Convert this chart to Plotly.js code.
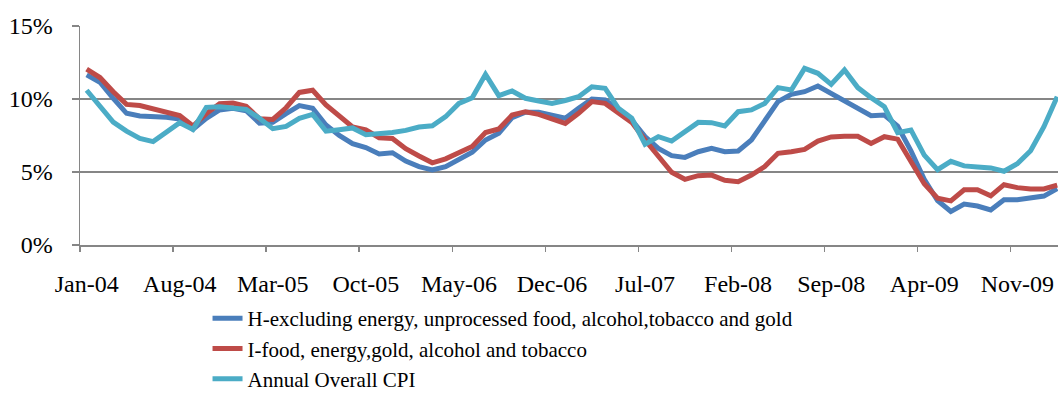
<!DOCTYPE html>
<html>
<head>
<meta charset="utf-8">
<script src="https://cdn.plot.ly/plotly-3.0.1.min.js"></script>
<style>
  html, body { margin: 0; padding: 0; background: #ffffff; }
  #chart { width: 1058px; height: 394px; }
</style>
</head>
<body>
<div id="chart"></div>
<script>
const months = [
  "Jan-04","Feb-04","Mar-04","Apr-04","May-04","Jun-04","Jul-04","Aug-04","Sep-04","Oct-04","Nov-04","Dec-04",
  "Jan-05","Feb-05","Mar-05","Apr-05","May-05","Jun-05","Jul-05","Aug-05","Sep-05","Oct-05","Nov-05","Dec-05",
  "Jan-06","Feb-06","Mar-06","Apr-06","May-06","Jun-06","Jul-06","Aug-06","Sep-06","Oct-06","Nov-06","Dec-06",
  "Jan-07","Feb-07","Mar-07","Apr-07","May-07","Jun-07","Jul-07","Aug-07","Sep-07","Oct-07","Nov-07","Dec-07",
  "Jan-08","Feb-08","Mar-08","Apr-08","May-08","Jun-08","Jul-08","Aug-08","Sep-08","Oct-08","Nov-08","Dec-08",
  "Jan-09","Feb-09","Mar-09","Apr-09","May-09","Jun-09","Jul-09","Aug-09","Sep-09","Oct-09","Nov-09","Dec-09",
  "Jan-10","Feb-10"
];

const tickLabels = ["Jan-04","Aug-04","Mar-05","Oct-05","May-06","Dec-06","Jul-07","Feb-08","Sep-08","Apr-09","Nov-09"];

const seriesNames = [
  "H-excluding energy, unprocessed food, alcohol,tobacco and gold",
  "I-food, energy,gold, alcohol and tobacco",
  "Annual Overall CPI"
];

const hCore = [
  11.65, 11.15, 10.05, 9.02, 8.84, 8.80, 8.75, 8.63, 7.92, 8.68, 9.25, 9.36,
  9.20, 8.35, 8.40, 9.00, 9.55, 9.36, 8.22, 7.50, 6.94, 6.67, 6.23, 6.32,
  5.75, 5.37, 5.14, 5.37, 5.89, 6.35, 7.19, 7.65, 8.72, 9.09, 9.09, 8.86,
  8.68, 9.36, 10.00, 9.93, 9.25, 8.56, 7.42, 6.62, 6.12, 6.00, 6.39, 6.62,
  6.39, 6.44, 7.19, 8.45, 9.82, 10.32, 10.50, 10.89, 10.39, 9.93, 9.41, 8.86,
  8.90, 8.15, 6.45, 4.50, 3.05, 2.30, 2.80, 2.67, 2.40, 3.10, 3.10, 3.20,
  3.35, 3.86
];

const iIndex = [
  12.05, 11.47, 10.50, 9.63, 9.55, 9.30, 9.10, 8.86, 8.15, 9.00, 9.68, 9.72,
  9.50, 8.65, 8.60, 9.40, 10.45, 10.60, 9.60, 8.82, 8.08, 7.88, 7.35, 7.30,
  6.60, 6.10, 5.63, 5.90, 6.30, 6.75, 7.70, 7.95, 8.90, 9.13, 8.95, 8.65,
  8.33, 9.02, 9.82, 9.70, 9.02, 8.40, 7.19, 6.05, 4.98, 4.50, 4.75, 4.79,
  4.43, 4.34, 4.79, 5.37, 6.28, 6.39, 6.55, 7.12, 7.40, 7.45, 7.45, 6.95,
  7.42, 7.25, 5.75, 4.20, 3.20, 3.02, 3.78, 3.78, 3.37, 4.13, 3.93, 3.84,
  3.84, 4.10
];

const cpi = [
  10.60, 9.52, 8.42, 7.80, 7.30, 7.08, 7.70, 8.38, 7.92, 9.43, 9.47, 9.41,
  9.29, 8.68, 7.97, 8.12, 8.68, 8.95, 7.80, 7.90, 8.02, 7.55, 7.60, 7.70,
  7.85, 8.08, 8.17, 8.79, 9.70, 10.09, 11.69, 10.23, 10.55, 10.05, 9.86, 9.70,
  9.90, 10.16, 10.84, 10.73, 9.36, 8.68, 6.90, 7.42, 7.12, 7.72, 8.40, 8.38,
  8.15, 9.13, 9.25, 9.70, 10.78, 10.62, 12.10, 11.76, 11.00, 11.99, 10.78, 10.09,
  9.47, 7.70, 7.88, 6.16, 5.16, 5.73, 5.42, 5.35, 5.28, 5.05, 5.57, 6.45,
  8.10, 10.16
];

const colors = ["#4A7EBB", "#BE4B48", "#4BACC6"];
const fontFamily = "Liberation Serif, Times New Roman, serif";

const xIdx = months.map((m, i) => i);
const labelPos = tickLabels.map(l => months.indexOf(l));
const boundaryPos = labelPos.map(p => p - 0.5);

const traces = [hCore, iIndex, cpi].map((vals, s) => ({
  type: "scatter",
  mode: "lines",
  x: xIdx,
  y: vals.map(v => v / 100),
  text: months,
  name: seriesNames[s],
  line: { color: colors[s], width: 5 },
  hovertemplate: "%{text}: %{y:.1%}<extra></extra>"
}));

// invisible helper trace so the tick-mark axis is drawn
traces.push({
  type: "scatter", mode: "lines", x: [xIdx[0]], y: [0],
  xaxis: "x2", showlegend: false, hoverinfo: "skip",
  line: { color: "rgba(0,0,0,0)" }
});

const xRange = [-0.5, 73.06];
const gray = "#868686";

const layout = {
  width: 1058,
  height: 394,
  margin: { l: 80, r: 0, t: 26, b: 149, autoexpand: false },
  paper_bgcolor: "#ffffff",
  plot_bgcolor: "#ffffff",
  font: { family: fontFamily, color: "#000000", size: 24 },
  showlegend: true,
  legend: {
    orientation: "v",
    xref: "paper",
    x: 0.1304, xanchor: "left",
    yref: "container",
    y: 0.2437, yanchor: "top",
    bgcolor: "rgba(0,0,0,0)",
    font: { family: fontFamily, size: 21, color: "#000000" },
    tracegroupgap: 0
  },
  xaxis: {
    type: "linear",
    range: xRange,
    tickmode: "array",
    tickvals: labelPos,
    ticktext: tickLabels,
    ticks: "outside",
    ticklen: 17,
    tickcolor: "rgba(0,0,0,0)",
    showgrid: false,
    zeroline: false,
    showline: true,
    linecolor: gray,
    linewidth: 1.5,
    tickfont: { family: fontFamily, size: 24, color: "#000000" },
    fixedrange: true
  },
  xaxis2: {
    type: "linear",
    overlaying: "x",
    matches: "x",
    range: xRange,
    side: "bottom",
    tickmode: "array",
    tickvals: boundaryPos,
    ticks: "outside",
    ticklen: 6,
    tickwidth: 1.5,
    tickcolor: gray,
    showticklabels: false,
    showgrid: false,
    zeroline: false,
    showline: false
  },
  yaxis: {
    range: [0, 0.15],
    tickmode: "array",
    tickvals: [0, 0.05, 0.10, 0.15],
    ticktext: ["0%", "5%", "10%", "15%"],
    ticks: "outside",
    ticklen: 7,
    tickwidth: 1.5,
    tickcolor: gray,
    showgrid: true,
    gridcolor: gray,
    gridwidth: 1.5,
    zeroline: false,
    showline: true,
    linecolor: gray,
    linewidth: 1.5,
    ticklabelstandoff: 14,
    tickfont: { family: fontFamily, size: 24, color: "#000000" },
    fixedrange: true
  }
};

Plotly.newPlot("chart", traces, layout, { displayModeBar: false, staticPlot: true });
</script>
</body>
</html>
